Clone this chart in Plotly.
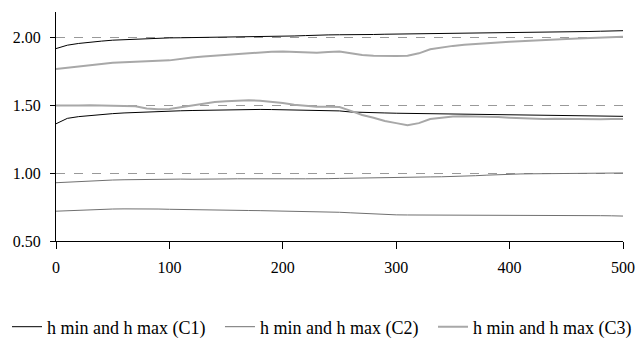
import plotly.graph_objects as go

x = list(range(0, 501, 10))

c1_max = [1.92, 1.945, 1.958, 1.968, 1.975, 1.982, 1.986, 1.99, 1.993, 1.997, 1.999, 2.0, 2.001, 2.0, 2.002,
          2.003, 2.004, 2.006, 2.008, 2.01, 2.011, 2.013, 2.016, 2.02, 2.021, 2.022, 2.021, 2.023, 2.024, 2.026,
          2.027, 2.026, 2.028, 2.03, 2.031, 2.033, 2.034, 2.036, 2.035, 2.037, 2.039, 2.04, 2.041, 2.043, 2.042,
          2.044, 2.045, 2.046, 2.048, 2.049, 2.052]
c1_min = [1.365, 1.405, 1.418, 1.427, 1.435, 1.44, 1.445, 1.449, 1.452, 1.456, 1.458, 1.461, 1.463, 1.465, 1.466,
          1.468, 1.469, 1.47, 1.471, 1.47, 1.469, 1.468, 1.467, 1.466, 1.464, 1.46, 1.452, 1.448, 1.446, 1.445,
          1.443, 1.442, 1.44, 1.439, 1.438, 1.437, 1.437, 1.436, 1.436, 1.435, 1.434, 1.433, 1.432, 1.43, 1.43,
          1.429, 1.427, 1.425, 1.424, 1.422, 1.42]
c2_max = [0.93, 0.935, 0.94, 0.944, 0.947, 0.95, 0.952, 0.954, 0.955, 0.956, 0.957, 0.957, 0.956, 0.955, 0.957,
          0.958, 0.959, 0.96, 0.96, 0.961, 0.96, 0.959, 0.959, 0.958, 0.96, 0.962, 0.964, 0.966, 0.967, 0.968,
          0.97, 0.971, 0.972, 0.973, 0.974, 0.975, 0.978, 0.982, 0.986, 0.99, 0.993, 0.995, 0.996, 0.997, 0.998,
          0.998, 0.999, 1.0, 1.0, 1.001, 1.002]
c2_min = [0.72, 0.724, 0.728, 0.731, 0.734, 0.736, 0.737, 0.738, 0.737, 0.736, 0.734, 0.732, 0.731, 0.73, 0.728,
          0.727, 0.726, 0.725, 0.724, 0.723, 0.722, 0.72, 0.718, 0.716, 0.715, 0.712, 0.708, 0.703, 0.698, 0.694,
          0.693, 0.692, 0.692, 0.691, 0.691, 0.69, 0.69, 0.69, 0.69, 0.69, 0.69, 0.69, 0.69, 0.69, 0.689,
          0.689, 0.688, 0.688, 0.687, 0.686, 0.684]
c3_max = [1.77, 1.78, 1.79, 1.80, 1.81, 1.815, 1.82, 1.825, 1.828, 1.83, 1.833, 1.845, 1.855, 1.862, 1.868,
          1.875, 1.882, 1.888, 1.892, 1.897, 1.898, 1.895, 1.892, 1.89, 1.895, 1.898, 1.885, 1.872, 1.868, 1.866,
          1.866, 1.868, 1.885, 1.915, 1.93, 1.94, 1.948, 1.955, 1.96, 1.965, 1.97, 1.975, 1.98, 1.983, 1.986,
          1.99, 1.994, 1.997, 2.0, 2.004, 2.008]
c3_min = [1.50, 1.498, 1.50, 1.502, 1.50, 1.502, 1.50, 1.495, 1.478, 1.472, 1.475, 1.488, 1.50, 1.515, 1.525,
          1.532, 1.537, 1.538, 1.535, 1.528, 1.518, 1.505, 1.497, 1.49, 1.49, 1.488, 1.46, 1.43, 1.41, 1.385,
          1.37, 1.355, 1.37, 1.40, 1.41, 1.418, 1.42, 1.42, 1.418, 1.415, 1.41, 1.405, 1.405, 1.40, 1.402,
          1.40, 1.40, 1.398, 1.398, 1.40, 1.40]

names = ["h min and h max (C1)", "h min and h max (C2)", "h min and h max (C3)"]
series = [(c1_max, c1_min), (c2_max, c2_min), (c3_max, c3_min)]
colors = ["#000000", "#707070", "#a8a8a8"]
widths = [1, 1, 2]
legend_ids = ["legend", "legend2", "legend3"]
legend_x = [-0.0864, 0.2892, 0.6649]

FONT = "Liberation Serif"

fig = go.Figure()
for name, (hi, lo), col, w, lid in zip(names, series, colors, widths, legend_ids):
    fig.add_trace(go.Scatter(x=x + [None] + x, y=hi + [None] + lo, mode="lines", name=name,
                             line=dict(color=col, width=w), legend=lid))

legend_common = dict(orientation="h", xanchor="left", y=-0.3755, yanchor="middle",
                     font=dict(family=FONT, size=18, color="black"), itemwidth=30,
                     bgcolor="rgba(0,0,0,0)")

fig.update_layout(
    width=639, height=338,
    margin=dict(l=56, r=16, t=12, b=97, autoexpand=False),
    plot_bgcolor="white", paper_bgcolor="white",
    font=dict(family=FONT, size=16, color="black"),
    showlegend=True,
    legend=dict(x=legend_x[0], **legend_common),
    legend2=dict(x=legend_x[1], **legend_common),
    legend3=dict(x=legend_x[2], **legend_common),
)
fig.update_xaxes(range=[0, 500], tickvals=[0, 100, 200, 300, 400, 500], showgrid=False,
                 showline=True, linecolor="black", linewidth=1, ticks="outside", ticklen=7,
                 tickcolor="black", zeroline=False, ticklabelstandoff=5, automargin=False)
fig.update_yaxes(range=[0.5, 2.19], tickvals=[0.5, 1.0, 1.5, 2.0], tickformat=".2f",
                 showgrid=True, gridcolor="#999999", griddash="dash", gridwidth=1,
                 showline=True, linecolor="black", linewidth=1, ticks="outside", ticklen=5,
                 tickcolor="black", zeroline=False, ticklabelstandoff=6, automargin=False)

# remove the browser's default 8px body margin so the figure fills the 639x338 window exactly
fig.write_html("out.html", config={"displayModeBar": False},
               post_script="document.body.style.margin='0';document.body.style.overflow='hidden';")
